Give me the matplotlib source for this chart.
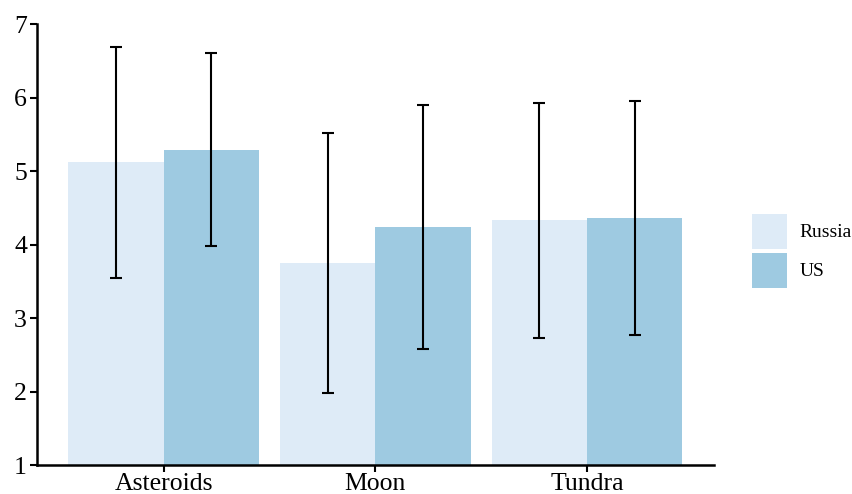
import numpy as np
import matplotlib
matplotlib.use('Agg')
import matplotlib.pyplot as plt
from matplotlib.patches import Patch

plt.rcParams['font.family'] = ['Liberation Serif', 'DejaVu Serif']

categories = ['Asteroids', 'Moon', 'Tundra']
groups = ['Russia', 'US']
russia_mean = [5.12, 3.75, 4.33]
russia_err = [1.57, 1.77, 1.60]
us_mean = [5.29, 4.24, 4.36]
us_err = [1.31, 1.66, 1.59]
colors = ['#deebf7', '#9ecae1']

fig = plt.figure(figsize=(8.53, 4.94), dpi=100)
ax = fig.add_axes([0.043, 0.0587, 0.794, 0.8927])

x = np.arange(len(categories))
w = 0.45
ekw = dict(ecolor='black', elinewidth=1.5, capsize=4.3, capthick=1.5)
ax.bar(x - w / 2, russia_mean, w, color=colors[0], yerr=russia_err, error_kw=ekw, label=groups[0])
ax.bar(x + w / 2, us_mean, w, color=colors[1], yerr=us_err, error_kw=ekw, label=groups[1])

ax.set_xlim(-0.6, 2.6)
ax.set_ylim(1, 7)
ax.set_xticks(x)
ax.set_xticklabels(categories)
ax.set_yticks(range(1, 8))
ax.tick_params(axis='both', labelsize=18.5, length=5, width=1.5, color='black', labelcolor='black')
ax.tick_params(axis='x', pad=1)
ax.tick_params(axis='y', pad=2)
for s in ['top', 'right']:
    ax.spines[s].set_visible(False)
for s in ['left', 'bottom']:
    ax.spines[s].set_linewidth(1.8)
    ax.spines[s].set_color('black')

# legend: squares ~35px, text to the right
handles = [Patch(facecolor=c, edgecolor='none') for c in colors]
fig.legend(handles, groups, loc='upper left', bbox_to_anchor=(752 / 853, 1 - 214 / 494),
           frameon=False, fontsize=14, handlelength=1.8, handleheight=2.39,
           labelspacing=0.2, handletextpad=0.65, borderpad=0, borderaxespad=0)

fig.savefig('out.png', dpi=100)
